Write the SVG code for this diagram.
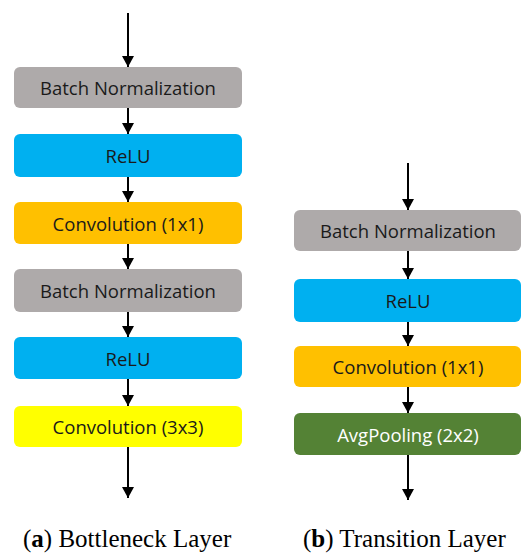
<svg xmlns="http://www.w3.org/2000/svg" width="521" height="554" viewBox="0 0 521 554">
<style>
.box{stroke:none}
.lbl{font-family:"Open Sans","Noto Sans",sans-serif;font-size:18.5px;fill:#1a1a1a;text-anchor:middle;dominant-baseline:central}
.bn{fill:#AEAAAA}.relu{fill:#00B0F0}.c1{fill:#FFC000}.c3{fill:#FFFF00}.pool{fill:#548235}
.cap{font-family:"Liberation Serif","DejaVu Serif",serif;font-size:25px;fill:#000}
.edge{stroke:#000;stroke-width:2;fill:none;marker-end:url(#ah)}
</style>
<defs>
<marker id="ah" markerWidth="14" markerHeight="14" refX="11" refY="6" orient="auto" markerUnits="userSpaceOnUse">
<path d="M0,0 L11,6 L0,12 z" fill="#000"/>
</marker>
</defs>
<rect width="521" height="554" fill="#fff"/>
<g id="edges">
<line class="edge" x1="128" y1="13" x2="128" y2="67"/>
<line class="edge" x1="128" y1="108" x2="128" y2="134"/>
<line class="edge" x1="128" y1="177" x2="128" y2="202"/>
<line class="edge" x1="128" y1="244" x2="128" y2="269"/>
<line class="edge" x1="128" y1="312" x2="128" y2="337"/>
<line class="edge" x1="128" y1="379" x2="128" y2="406"/>
<line class="edge" x1="128" y1="447" x2="128" y2="498"/>
<line class="edge" x1="408" y1="163" x2="408" y2="210"/>
<line class="edge" x1="408" y1="251" x2="408" y2="279"/>
<line class="edge" x1="408" y1="322" x2="408" y2="346"/>
<line class="edge" x1="408" y1="387" x2="408" y2="413"/>
<line class="edge" x1="408" y1="455" x2="408" y2="500"/>
</g>
<g id="a-bn1"><rect class="box bn" x="14" y="67" width="228" height="41" rx="6"/><text class="lbl" x="128" y="87.5">Batch Normalization</text></g>
<g id="a-relu1"><rect class="box relu" x="14" y="134" width="228" height="43" rx="6"/><text class="lbl" x="128" y="155.5">ReLU</text></g>
<g id="a-conv1"><rect class="box c1" x="14" y="202" width="228" height="42" rx="6"/><text class="lbl" x="128" y="223">Convolution (1x1)</text></g>
<g id="a-bn2"><rect class="box bn" x="14" y="269" width="228" height="43" rx="6"/><text class="lbl" x="128" y="290.5">Batch Normalization</text></g>
<g id="a-relu2"><rect class="box relu" x="14" y="337" width="228" height="42" rx="6"/><text class="lbl" x="128" y="358">ReLU</text></g>
<g id="a-conv3"><rect class="box c3" x="14" y="406" width="228" height="41" rx="6"/><text class="lbl" x="128" y="426.5">Convolution (3x3)</text></g>
<g id="b-bn"><rect class="box bn" x="294" y="210" width="227" height="41" rx="6"/><text class="lbl" x="408" y="230.5">Batch Normalization</text></g>
<g id="b-relu"><rect class="box relu" x="294" y="279" width="227" height="43" rx="6"/><text class="lbl" x="408" y="300.5">ReLU</text></g>
<g id="b-conv1"><rect class="box c1" x="294" y="346" width="227" height="41" rx="6"/><text class="lbl" x="408" y="366.5">Convolution (1x1)</text></g>
<g id="b-pool"><rect class="box pool" x="294" y="413" width="227" height="42" rx="6"/><text class="lbl" x="408" y="434" style="fill:#fff">AvgPooling (2x2)</text></g>
<g id="captions">
<text class="cap" x="23" y="547">(<tspan font-weight="bold">a</tspan>) Bottleneck Layer</text>
<text class="cap" x="303" y="547">(<tspan font-weight="bold">b</tspan>) Transition Layer</text>
</g>
</svg>
